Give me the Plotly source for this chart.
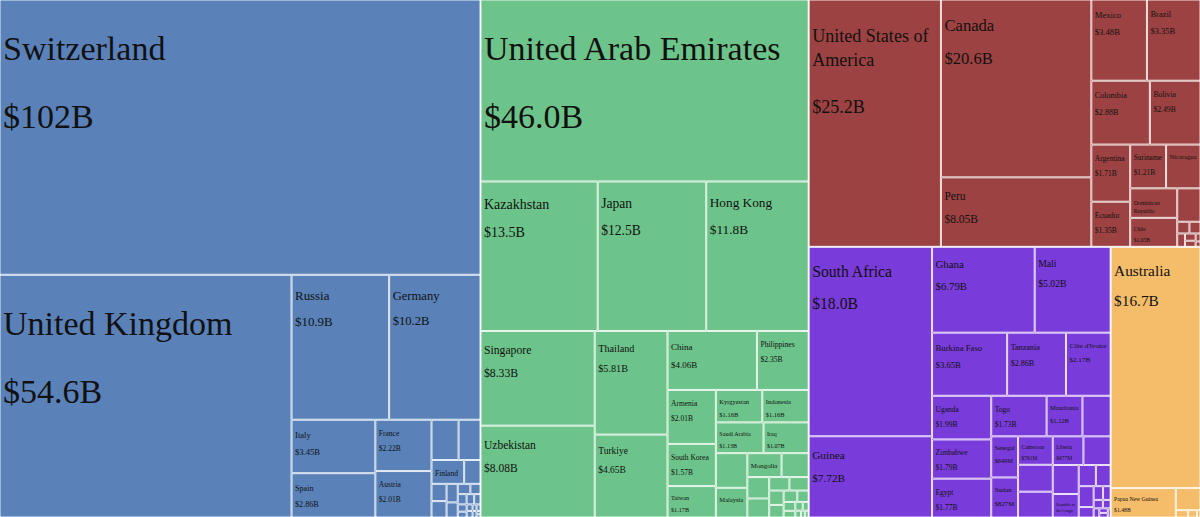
import math
import plotly.graph_objects as go

# ---------------- data (gold exports, billions of US$) ----------------
europe_names = ["Switzerland", "United Kingdom", "Russia", "Germany", "Italy", "Spain",
                "France", "Austria", "Belgium", "Netherlands", "Finland", "Sweden",
                "Poland", "Czechia", "Portugal", "Bulgaria", "Ireland", "Belarus", "Serbia",
                "Denmark", "Lithuania", "Slovakia", "Greece", "Estonia", "Norway",
                "Hungary", "Romania", "Latvia", "Croatia", "Slovenia"]
europe_values = [102.0, 54.6, 10.9, 10.2, 3.45, 2.86, 2.22, 2.01, 0.84, 0.68, 0.60, 0.30,
                 0.20, 0.19, 0.16, 0.13, 0.10, 0.08, 0.07, 0.06, 0.05, 0.05, 0.04, 0.03,
                 0.03, 0.02, 0.02, 0.02, 0.01, 0.01]

asia_names = ["United Arab Emirates", "Kazakhstan", "Japan", "Hong Kong", "Singapore",
              "Uzbekistan", "Thailand", "Turkiye", "China", "Philippines", "Armenia",
              "South Korea", "Taiwan", "Kyrgyzstan", "Indonesia", "Saudi Arabia", "Iraq",
              "Laos", "Malaysia", "Mongolia", "Tajikistan", "India", "Vietnam", "Israel",
              "Bahrain", "Lebanon", "Qatar", "Kuwait", "Jordan", "Oman", "Cambodia",
              "Georgia", "Sri Lanka", "Myanmar", "Nepal", "Macau"]
asia_values = [46.0, 13.5, 12.5, 11.8, 8.33, 8.08, 5.81, 4.65, 4.06, 2.35, 2.01, 1.57,
               1.17, 1.16, 1.16, 1.13, 1.07, 0.84, 0.72, 0.63, 0.50, 0.36, 0.32, 0.21,
               0.20, 0.16, 0.14, 0.12, 0.10, 0.08, 0.06, 0.05, 0.04, 0.03, 0.02, 0.02]

americas_names = ["United States of America", "Canada", "Peru", "Mexico", "Brazil",
                  "Colombia", "Bolivia", "Argentina", "Ecuador", "Suriname", "Nicaragua",
                  "Dominican Republic", "Chile", "Guyana", "Honduras", "Guatemala",
                  "Panama", "Venezuela", "Uruguay", "Costa Rica", "Trinidad and Tobago"]
americas_values = [25.2, 20.6, 8.05, 3.48, 3.35, 2.88, 2.49, 1.71, 1.35, 1.21, 1.16,
                   1.07, 1.05, 0.60, 0.11, 0.10, 0.08, 0.06, 0.05, 0.03, 0.02]

africa_names = ["South Africa", "Guinea", "Ghana", "Mali", "Burkina Faso", "Tanzania",
                "Côte d'Ivoire", "Uganda", "Zimbabwe", "Egypt", "Togo", "Mauritania",
                "Democratic Republic of the Congo", "Senegal", "Sudan", "Cameroon", "Niger",
                "Ethiopia", "Liberia", "Madagascar", "Kenya", "Republic of the Congo",
                "Sierra Leone", "Morocco", "Zambia", "Rwanda", "Mozambique", "Namibia",
                "Eritrea", "Tunisia", "Algeria", "Nigeria", "Burundi", "Chad"]
africa_values = [18.0, 7.72, 6.79, 5.02, 3.65, 2.86, 2.17, 1.99, 1.79, 1.77, 1.73, 1.12,
                 0.88, 0.849, 0.827, 0.761, 0.72, 0.69, 0.677, 0.60, 0.58, 0.47, 0.28,
                 0.24, 0.24, 0.12, 0.10, 0.08, 0.06, 0.05, 0.04, 0.03, 0.03, 0.02]

oceania_names = ["Australia", "Papua New Guinea", "New Zealand", "Fiji",
                 "Solomon Islands", "New Caledonia"]
oceania_values = [16.7, 1.48, 0.42, 0.07, 0.05, 0.02]

continents = ["Europe", "Asia", "Americas", "Africa", "Oceania"]

# ---------------- label text choices ----------------
name_only = {"Finland", "Malaysia", "Mongolia", "Nicaragua", "Dominican Republic",
             "Republic of the Congo"}
hidden = {"Belgium", "Netherlands", "Laos", "Democratic Republic of the Congo", "Niger",
          "Ethiopia"}
wrapped = {"United States of America": "United States of<br>America",
           "Dominican Republic": "Dominican<br>Republic",
           "Republic of the Congo": "Republic of<br>the Congo"}

# ---------------- style ----------------
colors = {"Europe": "#5a82b9", "Asia": "#6dc48a", "Americas": "#9d4242",
          "Africa": "#7a3bdb", "Oceania": "#f5bd6a"}
FONT = "Liberation Serif, Times New Roman, serif"
NB = "\u00a0"


def fmt(v):
    if v >= 100:
        return f"${v:.0f}B"
    if v >= 10:
        return f"${v:.1f}B"
    if v >= 1:
        return f"${v:.2f}B"
    return f"${v * 1000:.0f}M"


def font_size(v):
    if v >= 40:
        return 34
    return max(7.5, min(19, 3 + 3 * math.sqrt(v)))


def span(t, s):
    return f"<span style='font-size:{s:.1f}px'>{t}</span>"


groups = {
    "Europe": (europe_names, europe_values),
    "Asia": (asia_names, asia_values),
    "Americas": (americas_names, americas_values),
    "Africa": (africa_names, africa_values),
    "Oceania": (oceania_names, oceania_values),
}

ids, labels, parents, values, mcolors, texts, sizes, custom = [], [], [], [], [], [], [], []
for cont in continents:
    ids.append(cont)
    labels.append(cont)
    parents.append("")
    values.append(0)
    mcolors.append(colors[cont])
    texts.append("")
    sizes.append(10)
    names, vals = groups[cont]
    custom.append(fmt(sum(vals)))
    for n, v in zip(names, vals):
        ids.append(cont + "/" + n)
        labels.append(n)
        parents.append(cont)
        values.append(v)
        mcolors.append(colors[cont])
        s = font_size(v)
        base = s
        if n in hidden or (v < 0.65 and n not in name_only):
            t = ""
        elif n in wrapped:
            disp = wrapped[n]
            t = NB + "<br>" + disp
            if n not in name_only:
                t += "<br><br>" + fmt(v)
        else:
            base = 0.77 * s
            t = NB + "<br>" + span(n, s)
            if n not in name_only:
                t += "<br><br>" + span(fmt(v), s)
        texts.append(t)
        sizes.append(base)
        custom.append(fmt(v))

fig = go.Figure(go.Treemap(
    ids=ids,
    labels=labels,
    parents=parents,
    values=values,
    branchvalues="remainder",
    sort=True,
    text=texts,
    customdata=custom,
    texttemplate="%{text}",
    textposition="top left",
    textfont=dict(family=FONT, size=sizes, color="#111111"),
    hoverinfo="skip",
    marker=dict(colors=mcolors, line=dict(color="rgba(255,255,255,0.85)", width=1),
                pad=dict(t=0, l=0, r=0, b=0)),
    tiling=dict(packing="squarify", squarifyratio=1, pad=1),
    pathbar=dict(visible=False),
    root=dict(color="white"),
))

fig.update_layout(
    width=1200, height=517,
    margin=dict(l=0, r=0, t=0, b=0),
    paper_bgcolor="white",
    font=dict(family=FONT),
    hovermode=False,
)

fig.write_html("out.html",
               config={"staticPlot": True, "displayModeBar": False},
               post_script="document.body.style.margin='0';"
                           "document.body.style.overflow='hidden';")
